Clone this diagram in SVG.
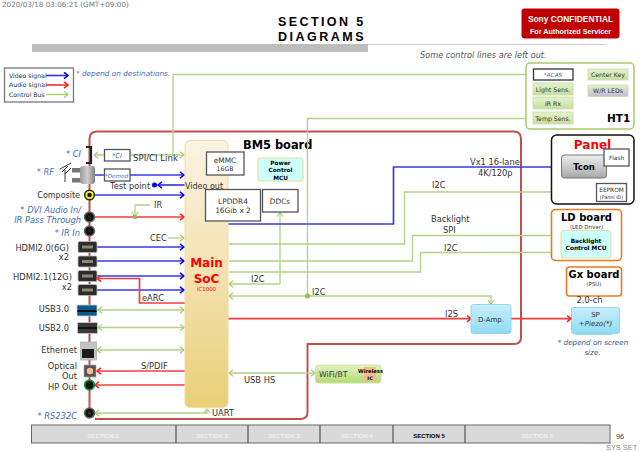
<svg xmlns="http://www.w3.org/2000/svg" width="640" height="452" viewBox="0 0 640 452">
<style>
text{font-family:"DejaVu Sans","Liberation Sans",sans-serif;fill:#333}
.lb{font-size:8.300px}
.note{font-size:8.300px;font-style:italic;fill:#3f6fb8}
.hd{font-family:"Liberation Sans",Arial,sans-serif;font-weight:700;fill:#000;font-size:12.500px}
.bt{font-weight:700;fill:#000}
.m{text-anchor:middle}
.e{text-anchor:end}
.bus{fill:none;stroke:#b2d184;stroke-width:1.300}
.vid{fill:none;stroke:#3a3ae0;stroke-width:1.700}
.aud{fill:none;stroke:#f23c3c;stroke-width:1.700}
.v{marker-end:url(#ab)}
.a{marker-end:url(#ar)}
.g{marker-end:url(#ag)}
.gg{marker-end:url(#ag);marker-start:url(#ag)}
.box{fill:#fff;stroke:#555;stroke-width:1.300}
.sens{fill:url(#gs);stroke:#c8dca8;stroke-width:.8}
.jack{stroke:#666;stroke-width:1.500}
.hdmi{fill:#2c2c2c;stroke:#bbb;stroke-width:.8}
.sec{font-size:6px;font-weight:700;fill:#f2f2f2;text-anchor:middle;font-family:"Liberation Sans",sans-serif}
</style>
<defs>
<marker id="ab" markerWidth="7" markerHeight="8" refX="5.500" refY="4" orient="auto-start-reverse" markerUnits="userSpaceOnUse"><path d="M1.500 .8L5.500 4L1.500 7.200" fill="none" stroke="#0000ee" stroke-width="1.500"/></marker>
<marker id="ar" markerWidth="7" markerHeight="8" refX="5.500" refY="4" orient="auto-start-reverse" markerUnits="userSpaceOnUse"><path d="M1.500 .8L5.500 4L1.500 7.200" fill="none" stroke="#ff1a1a" stroke-width="1.500"/></marker>
<marker id="ag" markerWidth="7" markerHeight="8" refX="5.500" refY="4" orient="auto-start-reverse" markerUnits="userSpaceOnUse"><path d="M1.500 .8L5.500 4L1.500 7.200" fill="none" stroke="#a5cc70" stroke-width="1.100"/></marker>
<linearGradient id="soc" x1="0" y1="0" x2="0" y2="1"><stop offset="0" stop-color="#fbf4e4"/><stop offset=".45" stop-color="#f5e3b5"/><stop offset="1" stop-color="#e8cf78"/></linearGradient>
<linearGradient id="gs" x1="0" y1="0" x2="0" y2="1"><stop offset="0" stop-color="#e6f2cc"/><stop offset="1" stop-color="#c6e09a"/></linearGradient>
<linearGradient id="gp" x1="0" y1="0" x2="0" y2="1"><stop offset="0" stop-color="#e6f2cc"/><stop offset="1" stop-color="#c5b8d8"/></linearGradient>
<linearGradient id="gc" x1="0" y1="0" x2="0" y2="1"><stop offset="0" stop-color="#c8eefa"/><stop offset="1" stop-color="#8fdcf2"/></linearGradient>
<linearGradient id="gt" x1="0" y1="0" x2="0" y2="1"><stop offset="0" stop-color="#eeeeee"/><stop offset="1" stop-color="#a8a8a8"/></linearGradient>
<linearGradient id="gw" x1="0" y1="0" x2="0" y2="1"><stop offset="0" stop-color="#e2f2c2"/><stop offset="1" stop-color="#b4da70"/></linearGradient>
<linearGradient id="gr" x1="0" y1="0" x2="1" y2="0"><stop offset="0" stop-color="#9a9a9a"/><stop offset=".5" stop-color="#cfcfcf"/><stop offset="1" stop-color="#808080"/></linearGradient>
</defs>

<g id="header">
<text x="2" y="7" style="font-size:7.200px;fill:#777">2020/03/18 03:06:21 (GMT+09:00)</text>
<text x="278" y="26" class="hd" style="letter-spacing:2.400px">SECTION 5</text>
<text x="278" y="41" class="hd" style="letter-spacing:2.500px">DIAGRAMS</text>
<rect x="32" y="44" width="336" height="8" fill="#bdbdbd"/>
<line x1="368" y1="44.500" x2="607" y2="44.500" stroke="#ccc"/>
<rect x="521.500" y="8.500" width="98" height="30" rx="3" fill="#c00000"/>
<text x="570.500" y="22" class="m" style="font-size:8.400px;font-weight:700;fill:#fff;font-family:'Liberation Sans',sans-serif">Sony CONFIDENTIAL</text>
<text x="570.500" y="34" class="m" style="font-size:7.200px;font-weight:700;fill:#fff;font-family:'Liberation Sans',sans-serif">For Authorized Servicer</text>
<text x="420" y="58" style="font-size:8.200px;font-style:italic;fill:#555">Some control lines are left out.</text>
</g>

<g id="legend">
<rect x="4.500" y="68" width="69" height="34" fill="#fff" stroke="#777" stroke-width="1.300"/>
<text x="9" y="78" style="font-size:6.200px">Video signal</text>
<text x="9" y="87" style="font-size:6.200px">Audio signal</text>
<text x="9" y="97" style="font-size:6.200px">Control Bus</text>
<path class="vid v" d="M46 75.500H68"/>
<path class="aud a" d="M46 85H68"/>
<path d="M46 94.500H68" fill="none" stroke="#9ad650" stroke-width="1.300" marker-end="url(#ag)"/>
<text x="76" y="76" class="note" style="font-size:7.300px">* depend on destinations.</text>
</g>

<g id="board">
<path d="M89.500 413V139Q89.500 131.500 97 131.500H514Q521 131.500 521 139V337Q521 344 514 344H307.500V412Q307.500 419 300 419H95" fill="none" stroke="#c0504d" stroke-width="2"/>
<text x="243" y="149" class="bt" style="font-size:11.400px">BM5 board</text>
</g>

<g id="connectors">
<path class="bus g" d="M173 155V74.500H533"/>
<path class="bus g" d="M307.500 296V118.500H533"/>
<path class="bus gg" d="M94 155H184"/>
<path class="vid v" d="M95 175H184"/>
<path class="vid" d="M185 185H158" style="marker-end:url(#ab)"/>
<circle cx="154.500" cy="185" r="2.500" fill="#0000ee"/>
<path class="vid v" d="M95 195H184"/>
<path class="aud a" d="M95 217H184"/>
<path class="bus g" d="M150 205H135V216"/>
<circle cx="135" cy="217" r="2.300" fill="#8fba55"/>
<path class="bus g" d="M168 238H184"/>
<path class="vid v" d="M97 247H184"/>
<path class="vid v" d="M97 261H184"/>
<path class="vid v" d="M97 276H184"/>
<path class="vid v" d="M97 290H184"/>
<path class="aud a" d="M185 303H139.500V278.500H97"/>
<path class="bus gg" d="M98 310H184"/>
<path class="bus gg" d="M98 327.500H184"/>
<path class="bus gg" d="M97 350H184"/>
<path class="aud a" d="M185 371H97"/>
<path class="aud a" d="M185 385H95"/>
<path class="bus gg" d="M95 413H207V409"/>
<path class="bus g" d="M280 284H229"/>
<path class="bus g" d="M280 284V212.500"/>
<path class="bus gg" d="M229 296H491V304"/>
<circle cx="307.500" cy="296" r="2.500" fill="#8fba55"/>
<path class="vid" d="M228 224H393.500V167H561" style="marker-end:url(#ab)"/>
<path class="bus g" d="M229 244H404.500V192H596"/>
<path class="bus gg" d="M583 192V179"/>
<circle cx="583" cy="192" r="2.500" fill="#8fba55"/>
<path class="bus g" d="M229 261H412.500V235.500H561"/>
<path class="bus g" d="M229 272H420.500V252.500H561"/>
<path class="aud a" d="M228 318.700H471"/>
<path class="aud a" d="M511 318.700H571"/>
<path class="bus gg" d="M229 373H315"/>
</g>

<g id="connector-labels">
<text x="133" y="161" class="lb" style="font-size:8.600px">SPI/CI Link</text>
<text x="110" y="189" class="lb">Test point</text>
<text x="154" y="208" class="lb">IR</text>
<text x="150" y="241" class="lb">CEC</text>
<text x="142" y="301" class="lb">eARC</text>
<text x="141" y="369" class="lb">S/PDIF</text>
<text x="244" y="383" class="lb">USB HS</text>
<text x="212" y="416" class="lb">UART</text>
<text x="251" y="282" class="lb">I2C</text>
<text x="312" y="295" class="lb">I2C</text>
<text x="470" y="165" class="lb">Vx1 16-lane</text>
<text x="478" y="176" class="lb">4K/120p</text>
<text x="432" y="188" class="lb">I2C</text>
<text x="431" y="222" class="lb">Backlight</text>
<text x="443" y="233" class="lb">SPI</text>
<text x="444" y="251" class="lb">I2C</text>
<text x="445" y="317" class="lb">I2S</text>
</g>

<g id="main-soc">
<rect x="185" y="140.500" width="43" height="267" rx="5" fill="url(#soc)" stroke="#efdc9c"/>
<text x="206.500" y="267" class="m" style="font-size:12px;font-weight:700;fill:#f00">Main</text>
<text x="206.500" y="283" class="m" style="font-size:12px;font-weight:700;fill:#f00">SoC</text>
<text x="206.500" y="291" class="m" style="font-size:5.400px;fill:#f00">IC1000</text>
<text x="185" y="189" style="font-size:8px">Video out</text>
</g>
<g id="emmc"><rect class="box" x="206.500" y="152" width="37.500" height="23"/><text x="225" y="163" class="m" style="font-size:7.400px">eMMC</text><text x="225" y="171" class="m" style="font-size:6.200px">16GB</text></g>
<g id="lpddr4"><rect class="box" x="205.500" y="189.500" width="55" height="31.500"/><text x="233" y="204" class="m" style="font-size:7.400px">LPDDR4</text><text x="233" y="213" class="m" style="font-size:7.400px">16Gib x 2</text></g>
<g id="ddcs"><rect class="box" x="262.500" y="189.500" width="35.500" height="22.500"/><text x="280" y="204" class="m" style="font-size:7.400px">DDCs</text></g>
<g id="power-mcu"><rect x="258" y="158" width="45" height="23" rx="2" fill="#ccffff" stroke="#e6e2a0" stroke-width="1.200"/>
<text x="280.500" y="165" class="m bt" style="font-size:5.800px">Power</text><text x="280.500" y="172" class="m bt" style="font-size:5.800px">Control</text><text x="280.500" y="179.500" class="m bt" style="font-size:5.800px">MCU</text></g>

<g id="ci"><path d="M86 147H91V163H86" fill="none" stroke="#222" stroke-width="2.200"/><text x="81" y="157" class="note e">* CI</text>
<rect class="box" x="104.500" y="149.500" width="25.500" height="11.500"/><text x="117" y="158" class="note m" style="font-size:6.600px">*CI</text></g>
<g id="rf"><rect x="72" y="168" width="9" height="4.500" fill="#777"/><rect x="72" y="178" width="9" height="4.500" fill="#777"/><rect x="80" y="166" width="15" height="18" rx="3" fill="url(#gr)"/>
<path d="M65 182V170M60 169L71 163M62 172L68 166M65 174L71 168" stroke="#222" stroke-width=".9" fill="none"/>
<text x="54" y="175" class="note e">* RF</text>
<rect class="box" x="104.500" y="169" width="25.500" height="12"/><text x="105" y="177.500" class="note" style="font-size:5.600px">*Demod</text></g>
<g id="composite"><circle class="jack" cx="89.500" cy="195" r="4.800" fill="#ff0" style="stroke:#222"/><circle cx="89.500" cy="195" r="2.300" fill="#111"/><text x="80" y="198" class="lb e" style="font-size:8px">Composite</text></g>
<g id="dvi-audio"><circle class="jack" cx="89.500" cy="217" r="5" fill="#111"/><circle cx="89.500" cy="217" r="1.800" fill="#222"/><text x="81" y="213" class="note e">* DVI Audio In/</text><text x="81" y="223" class="note e">IR Pass Through</text></g>
<g id="ir-in"><circle class="jack" cx="89.500" cy="231" r="5" fill="#111"/><circle cx="89.500" cy="231" r="1.800" fill="#222"/><text x="80" y="236" class="note e">* IR In</text></g>
<g id="hdmi20"><rect class="hdmi" x="78" y="241.500" width="19" height="11" rx="1.500"/><rect x="82" y="245.500" width="11" height="3" fill="#8a8a70"/><rect class="hdmi" x="78" y="256" width="19" height="11" rx="1.500"/><rect x="82" y="260" width="11" height="3" fill="#8a8a70"/>
<text x="69" y="251" class="lb e">HDMI2.0(6G)</text><text x="69" y="260" class="lb e">x2</text></g>
<g id="hdmi21"><rect class="hdmi" x="78" y="270.500" width="19" height="11" rx="1.500"/><rect x="82" y="274.500" width="11" height="3" fill="#8a8a70"/><rect class="hdmi" x="78" y="284.500" width="19" height="11" rx="1.500"/><rect x="82" y="288.500" width="11" height="3" fill="#8a8a70"/>
<text x="72" y="280" class="lb e">HDMI2.1(12G)</text><text x="72" y="290" class="lb e">x2</text></g>
<g id="usb3"><rect x="77" y="305" width="20" height="11" rx="1" fill="#0b5a8c" stroke="#ccc" stroke-width=".8"/><rect x="77.500" y="310" width="19" height="2" fill="#111"/><text x="69" y="312" class="lb e">USB3.0</text></g>
<g id="usb2"><rect x="77.500" y="322.500" width="20" height="11" rx="1" fill="#3a3a3a" stroke="#ccc" stroke-width=".8"/><rect x="78" y="327" width="19" height="2" fill="#111"/><text x="69" y="331" class="lb e">USB2.0</text></g>
<g id="ethernet"><rect x="80.500" y="342" width="16" height="18" fill="#c4c4c4" stroke="#aaa" stroke-width=".7"/><rect x="82" y="349" width="12" height="9" fill="#1c1c1c"/><text x="77" y="353" class="lb e">Ethernet</text></g>
<g id="optical"><rect x="84" y="365" width="12" height="12" fill="#555" stroke="#aaa" stroke-width=".7"/><circle cx="90" cy="371" r="3.200" fill="#f2c090"/><text x="77" y="369" class="lb e">Optical</text><text x="77" y="379" class="lb e">Out</text></g>
<g id="hp-out"><circle cx="89.500" cy="385" r="4.800" fill="#111" stroke="#0a9a44" stroke-width="1.800"/><text x="77" y="390" class="lb e">HP Out</text></g>
<g id="rs232c"><circle class="jack" cx="89.500" cy="413" r="5" fill="#111"/><circle cx="89.500" cy="413" r="1.800" fill="#333"/><text x="77" y="419" class="note e">* RS232C</text></g>

<g id="ht1">
<rect x="526" y="63" width="108" height="66" rx="4" fill="#fff" stroke="#a6cc68" stroke-width="1.500"/>
<rect class="box" x="533.500" y="69" width="39.500" height="11" style="stroke:#333"/><text x="553" y="77" class="note m" style="font-size:5.800px">*ACAS</text>
<rect class="sens" x="533" y="83" width="40" height="12"/><text x="553" y="91.500" class="m" style="font-size:6.200px">Light Sens.</text>
<rect class="sens" x="533" y="97" width="40" height="12"/><text x="553" y="106" class="m" style="font-size:6.200px">IR Rx</text>
<rect class="sens" x="533" y="112" width="40" height="12"/><text x="553" y="121" class="m" style="font-size:6.200px">Temp Sens.</text>
<rect class="sens" x="588" y="69" width="40" height="11"/><text x="608" y="77" class="m" style="font-size:6.200px">Center Key</text>
<rect x="588" y="85" width="40" height="11.500" fill="url(#gp)" stroke="#c8dca8" stroke-width=".8"/><text x="608" y="93" class="m" style="font-size:6.200px">W/R LEDs</text>
<text x="607" y="122" class="bt" style="font-size:10.500px">HT1</text>
</g>

<g id="panel">
<rect x="551.500" y="135" width="82.500" height="69" rx="5" fill="#fff" stroke="#111" stroke-width="1.500"/>
<text x="592.500" y="149" class="m" style="font-size:12px;font-weight:700;fill:#f00">Panel</text>
<rect x="561.500" y="155" width="45" height="23" rx="3" fill="url(#gt)" stroke="#777"/>
<text x="584" y="170" class="m bt" style="font-size:8.500px">Tcon</text>
<rect class="box" x="604" y="149" width="25" height="17"/><text x="616.500" y="160" class="m" style="font-size:5.800px">Flash</text>
<rect class="box" x="596.500" y="183.500" width="30" height="18"/><text x="611.500" y="192" class="m" style="font-size:5.800px">EEPROM</text><text x="611.500" y="198.500" class="m" style="font-size:4.800px">(Panel ID)</text>
</g>
<g id="ld-board">
<rect x="551.500" y="209.500" width="70" height="51" rx="4" fill="#fff" stroke="#ea7a1e" stroke-width="1.600"/>
<text x="586.500" y="221" class="m bt" style="font-size:10px">LD board</text>
<text x="586.500" y="229" class="m" style="font-size:5.400px">(LED Driver)</text>
<rect x="561" y="230.500" width="50" height="27.500" rx="3" fill="#ccffff" stroke="#e6e2a0" stroke-width="1.200"/>
<text x="586" y="243" class="m bt" style="font-size:5.800px">Backlight</text><text x="586" y="250" class="m bt" style="font-size:5.800px">Control MCU</text>
</g>
<g id="gx-board">
<rect x="566.500" y="267" width="55" height="29" rx="3" fill="#fff" stroke="#ea7a1e" stroke-width="1.600"/>
<text x="594" y="278" class="m bt" style="font-size:10px">Gx board</text>
<text x="594" y="286" class="m" style="font-size:5.400px">(PSU)</text>
</g>
<g id="d-amp"><rect x="471" y="304.500" width="40" height="29" rx="2.500" fill="url(#gc)" stroke="#92d4ea"/><text x="491" y="322" class="m" style="font-size:7px">D-Amp.</text></g>
<g id="speaker">
<rect x="575" y="330" width="38" height="5" rx="1.500" fill="#9adcf0"/>
<rect x="571.500" y="307.500" width="48" height="26" rx="2.500" fill="url(#gc)" stroke="#92d4ea"/>
<text x="595.500" y="317" class="m" style="font-size:7px">SP</text>
<text x="595.500" y="326" class="m" style="font-size:7px;font-style:italic">+Piezo(*)</text>
<text x="589.500" y="303" class="m lb">2.0-ch</text>
<text x="593" y="345" class="m" style="font-size:7.200px;font-style:italic;fill:#3a5a80">* depend on screen</text>
<text x="592.500" y="355" class="m" style="font-size:7.200px;font-style:italic;fill:#3a5a80">size.</text>
</g>
<g id="wifi">
<rect x="315.500" y="365" width="65.500" height="18" rx="3" fill="url(#gw)" stroke="#cfe3a0"/>
<text x="319" y="377" style="font-size:7.800px">WiFi/BT</text>
<rect x="364" y="367" width="12" height="14" fill="#f5b98a"/>
<text x="370.500" y="373" class="m bt" style="font-size:5.200px">Wireless</text><text x="370" y="380" class="m bt" style="font-size:4.800px">IC</text>
</g>

<g id="footer">
<rect x="31.500" y="425" width="578.500" height="18" fill="#d9d9d9" stroke="#666" stroke-width="1"/>
<path d="M176 425V443M248 425V443M320 425V443M393 425V443M465 425V443" stroke="#555" stroke-width="1.200"/>
<text x="103" y="438" class="sec">SECTION 1</text><text x="212" y="438" class="sec">SECTION 2</text><text x="284" y="438" class="sec">SECTION 3</text><text x="357" y="438" class="sec">SECTION 4</text><text x="429" y="438" class="sec" style="fill:#000">SECTION 5</text><text x="537" y="438" class="sec">SECTION 6</text>
<text x="616" y="439" style="font-size:7.200px;font-family:'Liberation Sans',sans-serif">96</text>
<text x="606" y="450" style="font-size:7.400px;fill:#888;font-family:'Liberation Sans',sans-serif">SYS SET</text>
</g>
</svg>
